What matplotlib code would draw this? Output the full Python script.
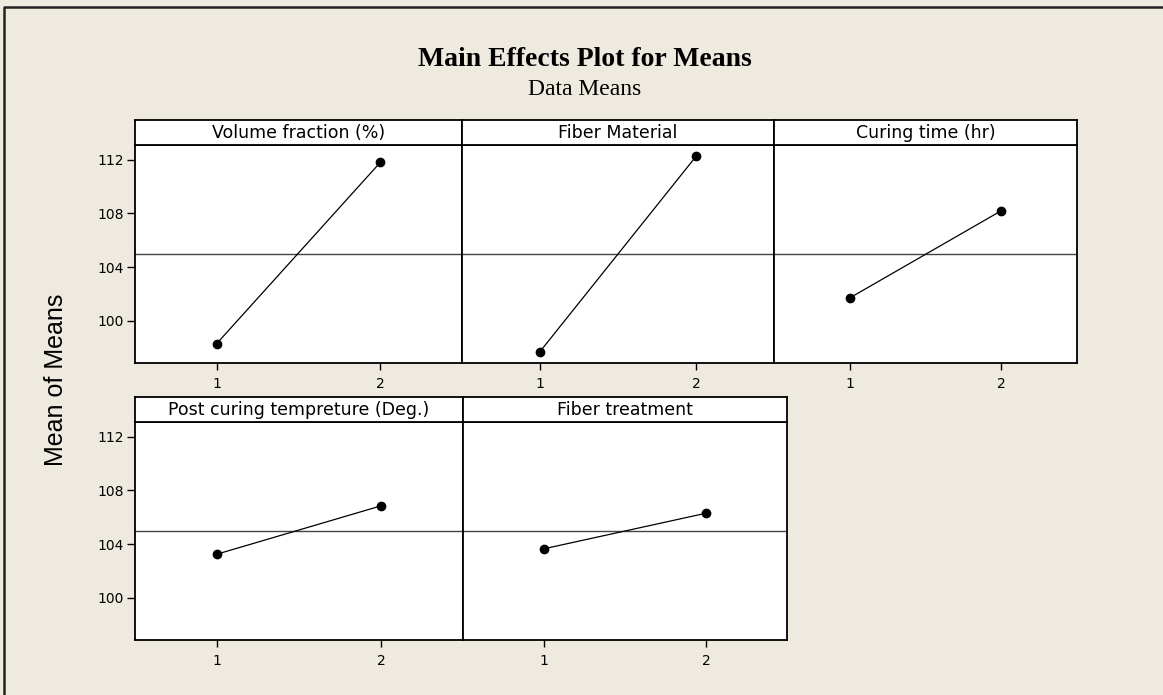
import numpy as np
import matplotlib
matplotlib.use("Agg")
import matplotlib.pyplot as plt
from matplotlib.lines import Line2D

# ---------------------------------------------------------
# Main effects data (mean of means at each factor level)
# ---------------------------------------------------------

levels = [1, 2]

factors = [
    "Volume fraction (%)",
    "Fiber Material",
    "Curing time (hr)",
    "Post curing tempreture (Deg.)",
    "Fiber treatment",
]

volume_fraction = [98.3, 111.8]
fiber_material = [97.7, 112.25]
curing_time = [101.7, 108.2]
post_curing = [103.25, 106.85]
fiber_treatment = [103.65, 106.3]

series = [volume_fraction, fiber_material, curing_time, post_curing, fiber_treatment]

grand_mean = np.mean(np.concatenate([np.array(s) for s in series]))

y_ticks = [100, 104, 108, 112]

# ---------------------------------------------------------
# Figure & panel layout (pixel boxes: left, right, top, bottom)
# ---------------------------------------------------------

W, H = 1163, 695
bg = "#EEEAE0"

fig = plt.figure(figsize=(W / 100, H / 100), dpi=100, facecolor=bg)

boxes = [
    (135, 462, 145, 363),
    (462, 774, 145, 363),
    (774, 1077, 145, 363),
    (135, 463, 422, 640),
    (463, 787, 422, 640),
]
header_h = 25

tick_font = {"family": "DejaVu Sans", "size": 10}


def fig_rect(l, r, t, b):
    return [l / W, 1 - b / H, (r - l) / W, (b - t) / H]


for i, (name, vals, box) in enumerate(zip(factors, series, boxes)):
    l, r, t, b = box

    ax = fig.add_axes(fig_rect(l, r, t, b))
    ax.set_facecolor("white")

    ax.axhline(grand_mean, color="#444444", linewidth=1.0, zorder=1)
    ax.plot(levels, vals, color="black", linewidth=0.9,
            marker="o", markersize=6, zorder=3)

    ax.set_xlim(0.5, 2.5)
    ax.set_ylim(96.85, 113.1)
    ax.set_xticks(levels)
    ax.set_xticklabels([str(v) for v in levels], fontdict=tick_font)
    ax.set_yticks(y_ticks)
    if l == 135:
        ax.set_yticklabels([str(v) for v in y_ticks], fontdict=tick_font)
        ax.tick_params(axis="y", length=6, width=1, pad=2, direction="out")
    else:
        ax.tick_params(axis="y", length=0, labelleft=False)
    ax.tick_params(axis="x", length=5, width=1, pad=5, direction="out")

    for sp in ax.spines.values():
        sp.set_linewidth(1.3)
        sp.set_color("black")

    # strip header with factor name
    hx = fig.add_axes(fig_rect(l, r, t - header_h, t))
    hx.set_facecolor("white")
    hx.set_xticks([])
    hx.set_yticks([])
    for sp in hx.spines.values():
        sp.set_linewidth(1.3)
        sp.set_color("black")
    hx.text(0.5, 0.47, name, ha="center", va="center",
            fontsize=12.5, family="DejaVu Sans", transform=hx.transAxes)

# ---------------------------------------------------------
# Titles & axis label
# ---------------------------------------------------------

fig.text(585 / W, 1 - 66.5 / H, "Main Effects Plot for Means",
         ha="center", va="baseline", fontsize=20, fontweight="bold",
         family="Liberation Serif")
fig.text(585 / W, 1 - 95 / H, "Data Means",
         ha="center", va="baseline", fontsize=17, family="Liberation Serif")

fig.text(56 / W, 1 - 380 / H, "Mean of Means", rotation=90,
         ha="center", va="center", fontsize=18, family="Liberation Sans")

# outer frame (top and left edges)
fig.add_artist(Line2D([4 / W, 4 / W, 1], [0, 1 - 7 / H, 1 - 7 / H],
                      transform=fig.transFigure, color="#222222",
                      linewidth=1.8))

plt.savefig("out.png", dpi=100, facecolor=bg)
plt.close()
